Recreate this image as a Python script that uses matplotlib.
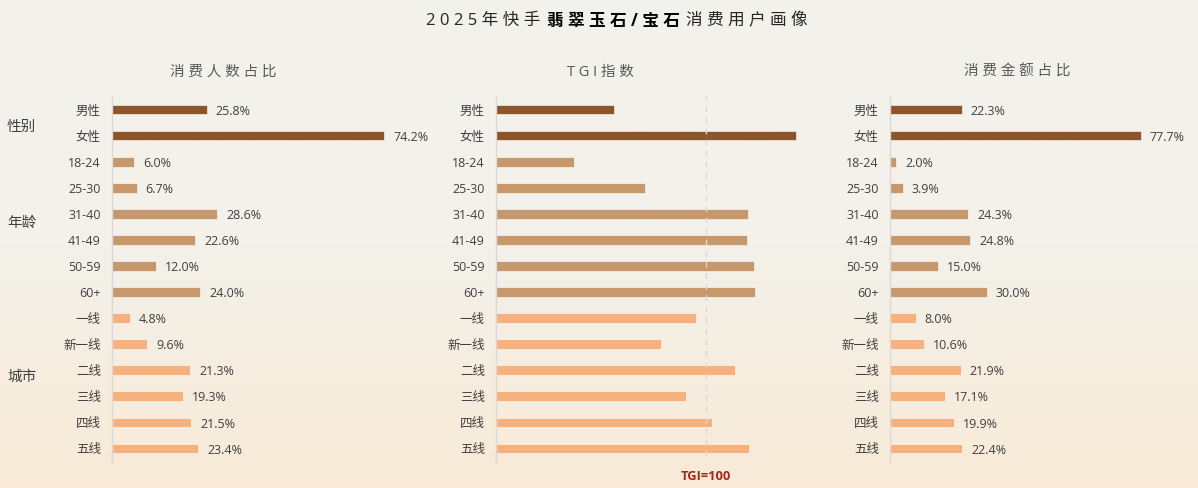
import numpy as np
from matplotlib import pyplot as plt
from matplotlib.colors import LinearSegmentedColormap

plt.rcParams['font.family'] = ['Open Sans', 'Noto Sans CJK SC', 'DejaVu Sans']

# данные
categories = ['男性', '女性', '18-24', '25-30', '31-40', '41-49', '50-59', '60+',
              '一线', '新一线', '二线', '三线', '四线', '五线']
user_share = [25.8, 74.2, 6.0, 6.7, 28.6, 22.6, 12.0, 24.0, 4.8, 9.6, 21.3, 19.3, 21.5, 23.4]
tgi_index = [56, 143, 37, 71, 120, 119.5, 123, 123.5, 95, 78.5, 114, 90.5, 103, 120.5]
amount_share = [22.3, 77.7, 2.0, 3.9, 24.3, 24.8, 15.0, 30.0, 8.0, 10.6, 21.9, 17.1, 19.9, 22.4]
group_names = ['性别', '年龄', '城市']
group_sizes = [2, 6, 6]

W, H = 1198, 488
DARK = '#404040'
group_colors = ['#8B5228', '#C6966A', '#F7B07C']
bar_colors = sum([[c] * n for c, n in zip(group_colors, group_sizes)], [])

fig = plt.figure(figsize=(W / 100, H / 100), dpi=100)

# фон с градиентом
bg = fig.add_axes([0, 0, 1, 1], zorder=0)
cmap = LinearSegmentedColormap.from_list('bg', ['#F3F2EC', '#F3F1EA', '#F9EAD7'])
bg.imshow(np.linspace(0, 1, 256).reshape(-1, 1), aspect='auto', cmap=cmap, extent=[0, W, H, 0])
bg.set_xlim(0, W)
bg.set_ylim(H, 0)
bg.axis('off')


def panel(x0, width, px_per_unit, values, show_labels):
    ax = fig.add_axes([x0 / W, 1 - 461.5 / H, width / W, 365 / H], zorder=1)
    ax.patch.set_alpha(0)
    bars = ax.barh(categories, values, height=0.37, color=bar_colors,
                   edgecolor='#FFFFFF', linewidth=0.4, alpha=0.98)
    ax.set_xlim(0, width / px_per_unit)
    ax.set_ylim(13.5, -0.5)
    ax.set_xticks([])
    for s in ['top', 'right', 'bottom']:
        ax.spines[s].set_visible(False)
    ax.spines['left'].set_color('#D9D9D9')
    ax.spines['left'].set_linewidth(1)
    ax.tick_params(axis='y', length=0, pad=8, labelsize=9, labelcolor=DARK)
    if show_labels:
        for t in ax.bar_label(bars, fmt='%.1f%%', padding=6.5, fontsize=9, color=DARK):
            t.xyann = (t.xyann[0], -1.2)
    return ax


panel(112, 330, 3.672, user_share, True)
ax_tgi = panel(496, 330, 2.1, tgi_index, False)
panel(890, 300, 3.224, amount_share, True)

# линия TGI=100
ax_tgi.axvline(100, ymin=0.014, ymax=1.014, color='#D9D9D9', linewidth=1,
               linestyle=(0, (4, 4)), clip_on=False, zorder=5)

# заголовки
bg.text(223, 72, '消 费 人 数 占 比', ha='center', va='center', fontsize=10.5, color='#595959')
bg.text(600, 72, 'T G I 指 数', ha='center', va='center', fontsize=10.5, color='#595959')
bg.text(1017, 72, '消 费 金 额 占 比', ha='center', va='center', fontsize=10.5, color='#595959')

bg.text(426, 21, '2 0 2 5 年 快 手', ha='left', va='center', fontsize=12, color='#262626')
bg.text(547, 21, '翡 翠 玉 石 / 宝 石', ha='left', va='center', fontsize=12,
        color='#000000', fontweight='bold')
bg.text(686, 21, '消 费 用 户 画 像', ha='left', va='center', fontsize=12, color='#262626')

# подписи групп
for name, y in zip(group_names, [127, 223, 377]):
    bg.text(7, y, name, ha='left', va='center', fontsize=10.5, color=DARK)

bg.text(706, 476, 'TGI=100', ha='center', va='center', fontsize=9.3,
        color='#A5281B', fontweight='bold')

fig.savefig('out.png', dpi=100)
